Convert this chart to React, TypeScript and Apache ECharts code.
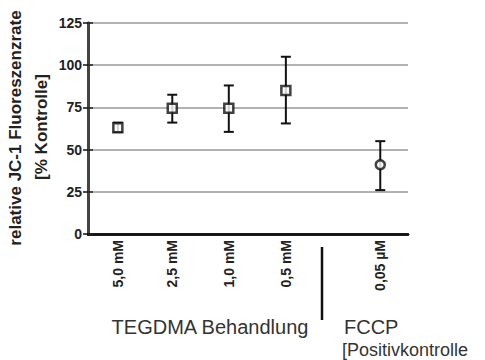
import React, { useEffect, useRef } from "react";
import * as echarts from "echarts";

const categories = ["5,0 mM", "2,5 mM", "1,0 mM", "0,5 mM", "0,05 µM"];
const xPositions = [0.56, 1.58, 2.64, 3.71, 5.48];
const means = [63, 74.5, 74.5, 85, 41];
const lows = [60.5, 66, 60.5, 65.5, 26];
const highs = [66, 82.5, 88, 105, 55];
const markerShapes = ["rect", "rect", "rect", "rect", "circle"];
const yTicks = [0, 25, 50, 75, 100, 125];

export default function App() {
  const ref = useRef<HTMLDivElement>(null);
  useEffect(() => {
    if (!ref.current) return;
    const chart = echarts.init(ref.current, null, { renderer: "svg" });
    const font = "'Liberation Sans', Arial, sans-serif";
    const option: any = {
      animation: false,
      backgroundColor: "#fff",
      grid: { left: 88, right: 77, top: 23, bottom: 126, containLabel: false },
      xAxis: [
        {
          type: "value",
          position: "bottom",
          min: 0,
          max: 6,
          axisLine: { show: true, lineStyle: { color: "#111", width: 2.5 } },
          axisTick: { show: false },
          splitLine: { show: false },
          axisLabel: {
            customValues: xPositions,
            rotate: 90,
            margin: 6,
            fontFamily: font,
            fontSize: 14,
            fontWeight: "bold",
            color: "#222",
            formatter: (v: number) => {
              let best = 0;
              xPositions.forEach((p, i) => {
                if (Math.abs(p - v) < Math.abs(xPositions[best] - v)) best = i;
              });
              return categories[best];
            },
          },
        },
        {
          type: "value",
          position: "top",
          min: 0,
          max: 6,
          axisLine: { show: true, lineStyle: { color: "#111", width: 2.5 } },
          axisTick: { show: false },
          axisLabel: { show: false },
          splitLine: { show: false },
        },
      ],
      yAxis: [
        {
          type: "value",
          position: "left",
          min: yTicks[0],
          max: yTicks[yTicks.length - 1],
          interval: 25,
          axisLine: { show: true, lineStyle: { color: "#111", width: 2.5 } },
          axisTick: { show: true, length: 5, lineStyle: { color: "#111", width: 1.5 } },
          axisLabel: {
            margin: 6,
            fontFamily: font,
            fontSize: 14,
            fontWeight: "bold",
            color: "#222",
          },
          splitLine: { show: true, lineStyle: { color: "#999", width: 1.5 } },
        },
        {
          type: "value",
          position: "right",
          min: yTicks[0],
          max: yTicks[yTicks.length - 1],
          interval: 25,
          axisLine: { show: true, lineStyle: { color: "#444", width: 3 } },
          axisTick: { show: true, length: 5, lineStyle: { color: "#222", width: 1.5 } },
          axisLabel: { show: false },
          splitLine: { show: false },
        },
      ],
      series: [
        {
          type: "custom",
          xAxisIndex: 0,
          yAxisIndex: 0,
          data: xPositions.map((x, i) => [x, lows[i], highs[i]]),
          renderItem: (params: any, api: any) => {
            const x = api.value(0);
            const lo = api.coord([x, api.value(1)]);
            const hi = api.coord([x, api.value(2)]);
            const hw = 5;
            const style = { stroke: "#111", lineWidth: 2 };
            return {
              type: "group",
              children: [
                { type: "line", shape: { x1: lo[0], y1: lo[1], x2: hi[0], y2: hi[1] }, style },
                { type: "line", shape: { x1: lo[0] - hw, y1: lo[1], x2: lo[0] + hw, y2: lo[1] }, style },
                { type: "line", shape: { x1: hi[0] - hw, y1: hi[1], x2: hi[0] + hw, y2: hi[1] }, style },
              ],
            };
          },
          z: 3,
        },
        {
          type: "scatter",
          xAxisIndex: 0,
          yAxisIndex: 0,
          data: xPositions.map((x, i) => ({
            value: [x, means[i]],
            symbol: markerShapes[i],
          })),
          symbolSize: 9,
          itemStyle: { color: "#fff", borderColor: "#111", borderWidth: 2.5 },
          z: 4,
        },
      ],
      graphic: [
        {
          type: "text",
          x: 15,
          y: 128,
          rotation: Math.PI / 2,
          style: {
            text: "relative JC-1 Fluoreszenzrate",
            fontFamily: font,
            fontSize: 17,
            fontWeight: "bold",
            fill: "#222",
            align: "center",
            verticalAlign: "middle",
          },
        },
        {
          type: "text",
          x: 41,
          y: 127,
          rotation: Math.PI / 2,
          style: {
            text: "[% Kontrolle]",
            fontFamily: font,
            fontSize: 17,
            fontWeight: "bold",
            fill: "#222",
            align: "center",
            verticalAlign: "middle",
          },
        },
        {
          type: "line",
          shape: { x1: 322, y1: 247, x2: 322, y2: 320 },
          style: { stroke: "#111", lineWidth: 2.5 },
        },
        {
          type: "text",
          x: 210,
          y: 327,
          style: {
            text: "TEGDMA Behandlung",
            fontFamily: font,
            fontSize: 20,
            fill: "#333",
            align: "center",
            verticalAlign: "middle",
          },
        },
        {
          type: "text",
          x: 344,
          y: 327,
          style: {
            text: "FCCP",
            fontFamily: font,
            fontSize: 20,
            fill: "#333",
            align: "left",
            verticalAlign: "middle",
          },
        },
        {
          type: "text",
          x: 342,
          y: 350,
          style: {
            text: "[Positivkontrolle",
            fontFamily: font,
            fontSize: 18,
            fill: "#333",
            align: "left",
            verticalAlign: "middle",
          },
        },
      ],
    };
    chart.setOption(option);
    return () => chart.dispose();
  }, []);
  return <div ref={ref} style={{ width: 485, height: 360, position: "absolute", left: 0, top: 0 }} />;
}
